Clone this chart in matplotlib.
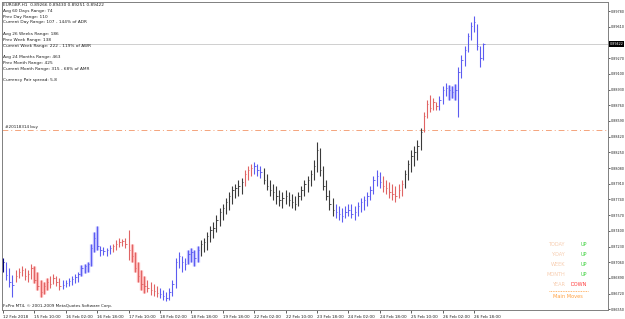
import matplotlib
matplotlib.use("Agg")
import matplotlib.pyplot as plt

# EURGBP H1 bars
bar_high = [
    0.87106, 0.87063, 0.86998, 0.86922, 0.86976, 0.86998, 0.87019, 0.86998, 0.86976, 0.87041,
    0.87019, 0.86954, 0.86868, 0.86846, 0.86889, 0.86911, 0.86933, 0.86911, 0.86889, 0.86868,
    0.86868, 0.86889, 0.86911, 0.86933, 0.86954, 0.87030, 0.87041, 0.87063, 0.87257, 0.87387,
    0.87452, 0.87236, 0.87225, 0.87214, 0.87247, 0.87257, 0.87301, 0.87322, 0.87312, 0.87322,
    0.87409, 0.87257, 0.87171, 0.87063, 0.86976, 0.86911, 0.86868, 0.86846, 0.86824, 0.86803,
    0.86781, 0.86759, 0.86738, 0.86781, 0.86868, 0.87106, 0.87171, 0.87128, 0.87106, 0.87192,
    0.87214, 0.87192, 0.87236, 0.87301, 0.87322, 0.87387, 0.87452, 0.87496, 0.87572, 0.87647,
    0.87691, 0.87756, 0.87821, 0.87886, 0.87907, 0.87951, 0.87972, 0.88059, 0.88102, 0.88124,
    0.88146, 0.88124, 0.88102, 0.88081, 0.88016, 0.87951, 0.87907, 0.87886, 0.87842, 0.87821,
    0.87842, 0.87821, 0.87799, 0.87777, 0.87821, 0.87886, 0.87951, 0.87994, 0.88059, 0.88167,
    0.88362, 0.88297, 0.88102, 0.87951, 0.87842, 0.87756, 0.87691, 0.87669, 0.87647, 0.87669,
    0.87691, 0.87691, 0.87669, 0.87712, 0.87756, 0.87777, 0.87821, 0.87886, 0.87994, 0.88059,
    0.88037, 0.87994, 0.87951, 0.87929, 0.87907, 0.87886, 0.87907, 0.87951, 0.88059, 0.88167,
    0.88275, 0.88319, 0.88384, 0.88514, 0.88687, 0.88817, 0.88871, 0.88839, 0.88795, 0.88860,
    0.88969, 0.89001, 0.88979, 0.88969, 0.88990, 0.89174, 0.89304, 0.89402, 0.89543, 0.89662,
    0.89727, 0.89640, 0.89402, 0.89430,
]
bar_low = [
    0.86954, 0.86868, 0.86792, 0.86683, 0.86846, 0.86889, 0.86911, 0.86868, 0.86846, 0.86878,
    0.86835, 0.86759, 0.86683, 0.86716, 0.86759, 0.86781, 0.86824, 0.86803, 0.86759, 0.86770,
    0.86792, 0.86803, 0.86813, 0.86835, 0.86846, 0.86911, 0.86943, 0.86954, 0.87019, 0.87171,
    0.87192, 0.87128, 0.87138, 0.87128, 0.87149, 0.87171, 0.87192, 0.87225, 0.87236, 0.87214,
    0.87084, 0.87063, 0.86954, 0.86846, 0.86759, 0.86727, 0.86738, 0.86705, 0.86694, 0.86683,
    0.86673, 0.86651, 0.86640, 0.86651, 0.86694, 0.86781, 0.86998, 0.86954, 0.86976, 0.87041,
    0.87063, 0.87019, 0.87063, 0.87128, 0.87171, 0.87192, 0.87279, 0.87322, 0.87387, 0.87452,
    0.87517, 0.87582, 0.87626, 0.87691, 0.87756, 0.87777, 0.87799, 0.87886, 0.87951, 0.87994,
    0.88016, 0.87994, 0.87972, 0.87907, 0.87842, 0.87777, 0.87734, 0.87691, 0.87669, 0.87647,
    0.87691, 0.87669, 0.87647, 0.87626, 0.87669, 0.87734, 0.87777, 0.87821, 0.87886, 0.87951,
    0.88037, 0.87994, 0.87842, 0.87734, 0.87626, 0.87561, 0.87539, 0.87517, 0.87496, 0.87539,
    0.87561, 0.87539, 0.87517, 0.87561, 0.87604, 0.87626, 0.87669, 0.87734, 0.87799, 0.87886,
    0.87864, 0.87821, 0.87799, 0.87756, 0.87734, 0.87712, 0.87756, 0.87777, 0.87864, 0.87951,
    0.88037, 0.88102, 0.88167, 0.88275, 0.88470, 0.88622, 0.88687, 0.88709, 0.88709, 0.88709,
    0.88774, 0.88860, 0.88817, 0.88839, 0.88817, 0.88633, 0.89055, 0.89185, 0.89337, 0.89467,
    0.89553, 0.89358, 0.89174, 0.89251,
]
bar_close = [
    0.87063, 0.86922, 0.86846, 0.86813, 0.86911, 0.86954, 0.86976, 0.86911, 0.86933, 0.86998,
    0.86868, 0.86803, 0.86738, 0.86803, 0.86846, 0.86824, 0.86889, 0.86846, 0.86803, 0.86813,
    0.86835, 0.86857, 0.86878, 0.86900, 0.86933, 0.86998, 0.87019, 0.87041, 0.87214, 0.87322,
    0.87236, 0.87192, 0.87182, 0.87192, 0.87214, 0.87236, 0.87257, 0.87279, 0.87290, 0.87257,
    0.87192, 0.87128, 0.86998, 0.86911, 0.86824, 0.86803, 0.86781, 0.86759, 0.86748, 0.86727,
    0.86716, 0.86694, 0.86673, 0.86738, 0.86824, 0.87063, 0.87128, 0.87063, 0.87041, 0.87149,
    0.87171, 0.87106, 0.87192, 0.87257, 0.87279, 0.87344, 0.87409, 0.87431, 0.87517, 0.87604,
    0.87647, 0.87712, 0.87777, 0.87842, 0.87864, 0.87886, 0.87929, 0.88016, 0.88059, 0.88081,
    0.88102, 0.88059, 0.88037, 0.87951, 0.87886, 0.87842, 0.87821, 0.87777, 0.87734, 0.87756,
    0.87777, 0.87734, 0.87712, 0.87691, 0.87777, 0.87842, 0.87907, 0.87951, 0.88016, 0.88102,
    0.88275, 0.88059, 0.87886, 0.87777, 0.87691, 0.87626, 0.87604, 0.87582, 0.87561, 0.87604,
    0.87626, 0.87582, 0.87604, 0.87669, 0.87712, 0.87734, 0.87777, 0.87842, 0.87951, 0.87994,
    0.87929, 0.87886, 0.87864, 0.87821, 0.87799, 0.87777, 0.87842, 0.87907, 0.88016, 0.88124,
    0.88211, 0.88254, 0.88319, 0.88470, 0.88644, 0.88774, 0.88730, 0.88795, 0.88752, 0.88817,
    0.88925, 0.88947, 0.88925, 0.88904, 0.88925, 0.89120, 0.89250, 0.89358, 0.89510, 0.89618,
    0.89662, 0.89402, 0.89272, 0.89422,
]

# colour of the bars, as runs of (trend code, number of bars)
color_runs = [
    ("b", 4), ("r", 15), ("b", 16), ("r", 15), ("b", 13), ("k", 14), ("r", 3),
    ("b", 3), ("k", 23), ("b", 15), ("r", 7), ("k", 6), ("r", 5), ("b", 15),
]
shaded_bars = [10, 11, 12, 13, 14, 25, 26, 27, 28, 29, 30, 41, 42, 43, 44, 45,
               59, 60, 61, 62, 142, 143, 144]

x_tick_bars = [0, 10, 20, 30, 40, 50, 60, 70, 80, 90, 100, 110, 120, 130, 140, 150]
x_tick_labels = [
    "12 Feb 2018", "15 Feb 10:00", "16 Feb 02:00", "16 Feb 18:00", "17 Feb 10:00",
    "18 Feb 02:00", "18 Feb 18:00", "19 Feb 18:00", "22 Feb 02:00", "22 Feb 10:00",
    "23 Feb 18:00", "24 Feb 02:00", "24 Feb 18:00", "25 Feb 10:00", "26 Feb 02:00",
    "26 Feb 18:00",
]
y_ticks = [
    0.86550, 0.86720, 0.86890, 0.87060, 0.87230, 0.87400, 0.87570, 0.87740, 0.87910,
    0.88080, 0.88250, 0.88420, 0.88590, 0.88760, 0.88930, 0.89100, 0.89270, 0.89610,
    0.89780,
]

bid_price = 0.89422
entry_price = 0.88492
entry_label = "#20118314 buy"

info_lines = [
    "EURGBP,H1  0.89266 0.89430 0.89251 0.89422",
    "Avg 60 Days Range: 74",
    "Prev Day Range: 110",
    "Current Day Range: 107 - 144% of ADR",
    "",
    "Avg 26 Weeks Range: 186",
    "Prev Week Range: 138",
    "Current Week Range: 222 - 119% of AWR",
    "",
    "Avg 24 Months Range: 463",
    "Prev Month Range: 425",
    "Current Month Range: 315 - 68% of AMR",
    "",
    "Currency Pair spread: 5.8",
]

period_names = ["TODAY", "Y-DAY", "WEEK", "MONTH", "YEAR"]
period_moves = ["UP", "UP", "UP", "UP", "DOWN"]

bar_colors = {"b": "#5c5cf0", "r": "#e06464", "k": "#3a3a3a"}
shade_colors = {"b": "#c4c4ff", "r": "#ffbcbc", "k": "#d0d0d0"}
move_colors = {"UP": "#3cd23c", "DOWN": "#ff3c3c"}

W, H = 625, 319
fig = plt.figure(figsize=(W / 100, H / 100), dpi=100)
fig.patch.set_facecolor("white")
ax = fig.add_axes([2 / W, 9 / H, 606 / W, 308 / H])
ax.set_facecolor("white")

codes = []
for code, count in color_runs:
    codes.extend([code] * count)

xs = list(range(len(bar_close)))

# light shading behind some bars (indicator zones)
for i in shaded_bars:
    ax.vlines(i, bar_low[i], bar_high[i], colors=shade_colors[codes[i]],
              linewidth=2.4, zorder=1)

colors = [bar_colors[c] for c in codes]
colors[0] = "#000080"
ax.vlines(xs, bar_low, bar_high, colors=colors, linewidth=0.8, zorder=3)
ax.hlines(bar_close, [x for x in xs], [x + 0.45 for x in xs], colors=colors,
          linewidth=0.6, zorder=3)

# bid line and the entry line
ax.axhline(bid_price, color="#c8c8c8", linewidth=0.6, zorder=0)
ax.axhline(entry_price, color="#f4a47c", linewidth=0.7,
           linestyle=(0, (6, 3, 1, 3)), zorder=2)
ax.text(0.5, entry_price + 0.00006, entry_label, fontsize=3.0, color="#202020",
        ha="left", va="bottom")

ax.set_xlim(-0.3, 192.7)
ax.set_ylim(0.86543, 0.89878)

ax.set_xticks(x_tick_bars)
ax.set_xticklabels(x_tick_labels)
for lab in ax.get_xticklabels():
    lab.set_horizontalalignment("left")
ax.tick_params(axis="x", direction="out", length=2.5, width=0.5, pad=0.8,
               labelsize=3.0, colors="#202020")

ax.yaxis.tick_right()
ax.set_yticks(y_ticks)
ax.set_yticklabels(["%.5f" % v for v in y_ticks])
ax.tick_params(axis="y", direction="out", length=1.5, width=0.5, pad=0.8,
               labelsize=2.4, colors="#202020")

for side in ["top", "bottom", "left", "right"]:
    ax.spines[side].set_color("#808080")
    ax.spines[side].set_linewidth(0.7)

# current price box on the price scale
ax.text(1.0025, bid_price, "%.5f" % bid_price, transform=ax.get_yaxis_transform(),
        fontsize=2.4, color="white", ha="left", va="center",
        bbox=dict(boxstyle="square,pad=0.25", facecolor="black", edgecolor="none"))

# range info block at the top left
for k, line in enumerate(info_lines):
    if line:
        fig.text(3 / W, 1 - (5 + k * 5.8) / H, line, fontsize=3.1,
                 color="#202020", ha="left", va="center")

fig.text(3 / W, 1 - 306 / H, "FxPro MT4, \u00a9 2001-2009 MetaQuotes Software Corp.",
         fontsize=3.0, color="#202020", ha="left", va="center")

# trend panel at the bottom right
for k, (name, move) in enumerate(zip(period_names, period_moves)):
    y = 1 - (245 + k * 9.8) / H
    fig.text(565 / W, y, name, fontsize=3.6, color="#f7cdb0", ha="right", va="center")
    fig.text(587 / W, y, move, fontsize=3.6, color=move_colors[move],
             ha="right", va="center")

fig.add_artist(plt.Line2D([549 / W, 588 / W], [1 - 291 / H, 1 - 291 / H],
                          transform=fig.transFigure, color="#ffa040",
                          linewidth=0.6, linestyle=(0, (1, 1))))
fig.text(568 / W, 1 - 297 / H, "Main Moves", fontsize=3.6, color="#ffa040",
         ha="center", va="center")

fig.savefig("out.png", dpi=100)
